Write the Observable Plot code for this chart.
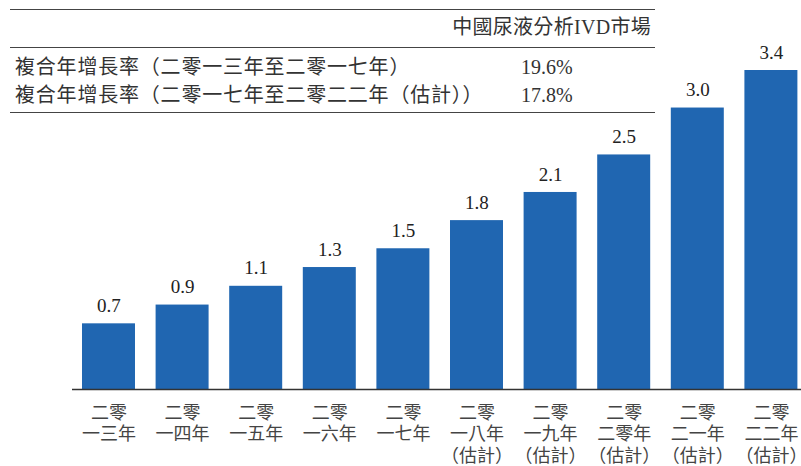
<!DOCTYPE html>
<html><head><meta charset="utf-8">
<script src="https://cdn.jsdelivr.net/npm/d3@7"></script>
<script src="https://cdn.jsdelivr.net/npm/@observablehq/plot@0.6"></script>
<style>
html,body{margin:0;padding:0;background:#fff;}
#wrap{position:relative;width:801px;height:466px;overflow:hidden;}
.t{position:absolute;font-family:"Liberation Serif","Noto Sans CJK TC",serif;color:#333;font-size:20px;line-height:24px;white-space:nowrap;}
.rule{position:absolute;left:10px;width:645px;height:0;border-top:1.5px solid #444;}
g[aria-label="x-axis tick label"] text{font-feature-settings:"halt";}
</style></head><body>
<div id="wrap"><div id="chart"></div><div id="table"></div></div>
<script>
const years = ["2013","2014","2015","2016","2017","2018","2019","2020","2021","2022"];
const tickLabels = ["二零\n一三年","二零\n一四年","二零\n一五年","二零\n一六年","二零\n一七年","二零\n一八年\n（估計）","二零\n一九年\n（估計）","二零\n二零年\n（估計）","二零\n二一年\n（估計）","二零\n二二年\n（估計）"];
const values = [0.7,0.9,1.1,1.3,1.5,1.8,2.1,2.5,3.0,3.4];
const tableTitle = "中國尿液分析IVD市場";
const cagrLabels = ["複合年增長率（二零一三年至二零一七年）","複合年增長率（二零一七年至二零二二年（估計））"];
const cagrValues = ["19.6%","17.8%"];

const data = years.map((y,i)=>({year:y, value:values[i]}));
const labelMap = new Map(years.map((y,i)=>[y, tickLabels[i]]));

const chart = Plot.plot({
  width:801, height:466,
  marginLeft:72, marginRight:0, marginTop:70, marginBottom:77,
  x:{domain:years, paddingInner:0.28, paddingOuter:0.0924, align:0.735, round:false, axis:null},
  y:{domain:[0,3.4], axis:null},
  style:{background:"#fff", fontFamily:"'Liberation Serif','Noto Sans CJK TC',serif", overflow:"visible"},
  marks:[
    Plot.barY(data,{x:"year", y:"value", fill:"#2066b1"}),
    Plot.ruleY([0],{stroke:"#333", strokeWidth:1.5}),
    Plot.text(data,{x:"year", y:"value", text:d=>d.value.toFixed(1), dy:-18, fontSize:19, fill:"#222"}),
    Plot.axisX({tickSize:0, tickPadding:14, label:null, tickFormat:d=>labelMap.get(d), fontSize:18, lineHeight:1.2, fill:"#444", fontFamily:"'Noto Sans CJK TC',sans-serif"})
  ]
});
document.getElementById("chart").appendChild(chart);

const tb = document.getElementById("table");
function add(cls, style, text){const d=document.createElement("div");d.className=cls;Object.assign(d.style,style);if(text)d.textContent=text;tb.appendChild(d);return d;}
add("rule",{top:"9px"});
add("rule",{top:"47px"});
add("rule",{top:"112px"});
add("t",{top:"15px",right:(801-651)+"px",letterSpacing:"0.3px"},tableTitle);
cagrLabels.forEach((l,i)=>{
  add("t",{top:(55+28*i)+"px",left:"15px",letterSpacing:"0.8px"},l);
  add("t",{top:(55+28*i)+"px",left:"521px"},cagrValues[i]);
});
</script>
</body></html>
